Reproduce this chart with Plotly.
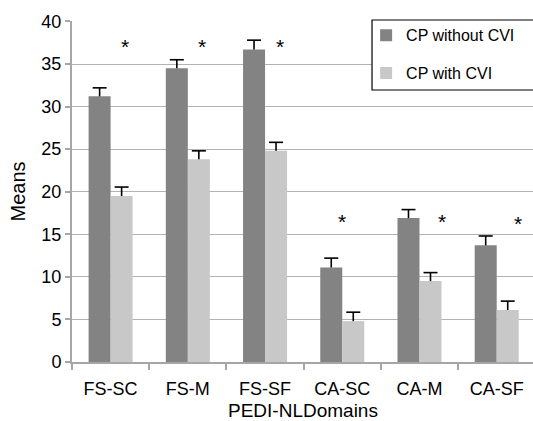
import plotly.graph_objects as go

categories = ["FS-SC", "FS-M", "FS-SF", "CA-SC", "CA-M", "CA-SF"]
without_cvi = [31.2, 34.5, 36.7, 11.1, 16.9, 13.7]
without_err = [1.0, 1.0, 1.1, 1.1, 1.0, 1.1]
with_cvi = [19.5, 23.8, 24.8, 4.8, 9.5, 6.1]
with_err = [1.05, 1.0, 1.0, 1.05, 1.0, 1.05]
star_x = [0.19, 1.18, 2.19, 3.0, 4.29, 5.28]
star_y = [37.4, 37.4, 37.4, 16.8, 16.8, 16.6]
y_ticks = [0, 5, 10, 15, 20, 25, 30, 35, 40]

FONT = "Liberation Sans, Arial, sans-serif"
DARK = "#838383"
LIGHT = "#c8c8c8"
GRID = "#b3b3b3"
AXIS = "#a6a6a6"

without_top = [v + e for v, e in zip(without_cvi, without_err)]
with_top = [v + e for v, e in zip(with_cvi, with_err)]

fig = go.Figure()
for name, vals, errs, tops, color, grp in [
    ("CP without CVI", without_cvi, without_err, without_top, DARK, "a"),
    ("CP with CVI", with_cvi, with_err, with_top, LIGHT, "b"),
]:
    fig.add_trace(go.Bar(
        x=categories, y=vals, name=name, offsetgroup=grp, legendgroup=grp,
        marker=dict(color=color, line=dict(width=0)),
        error_y=dict(type="data", array=errs, arrayminus=[0] * len(errs), symmetric=False,
                     color="black", thickness=1.6, width=0),
    ))
    fig.add_trace(go.Scatter(
        x=categories, y=tops, mode="markers", offsetgroup=grp, showlegend=False,
        hoverinfo="skip", cliponaxis=False,
        marker=dict(symbol="line-ew", size=10, color="black",
                    line=dict(color="black", width=1.6)),
    ))

for sx, sy in zip(star_x, star_y):
    fig.add_annotation(x=sx, y=sy, text="*", showarrow=False, yshift=-3,
                       font=dict(family=FONT, size=21, color="black"))

fig.add_annotation(text="PEDI-NLDomains", xref="paper", yref="paper", x=0.5, y=-0.179,
                   xanchor="center", yanchor="bottom", showarrow=False,
                   font=dict(family=FONT, size=19, color="black"))

fig.add_shape(type="rect", xref="paper", yref="paper",
              x0=0.6508, x1=1.2, y0=0.7977, y1=1.0029,
              line=dict(color="black", width=1.2), fillcolor="white", layer="above")

fig.update_layout(
    width=533, height=421,
    margin=dict(l=72, r=0, t=21, b=59, autoexpand=False),
    paper_bgcolor="white", plot_bgcolor="white",
    barmode="group", bargap=0.43, bargroupgap=0,
    scattermode="group", scattergap=0.43,
    font=dict(family=FONT, size=18, color="black"),
    showlegend=True,
    legend=dict(x=0.638, y=1.008, xanchor="left", yanchor="top",
                bgcolor="rgba(0,0,0,0)", borderwidth=0,
                font=dict(family=FONT, size=16, color="black"),
                traceorder="grouped", tracegroupgap=14),
    xaxis=dict(
        range=[-0.5, 5.47], showgrid=False, showline=True, linecolor=AXIS, linewidth=2,
        ticks="outside", tickson="boundaries", ticklen=6, tickcolor=AXIS, tickwidth=1.5,
        tickfont=dict(family=FONT, size=18), ticklabelstandoff=9, automargin=False,
    ),
    yaxis=dict(
        range=[0, 40.05], tickvals=y_ticks, showgrid=True, gridcolor=GRID, gridwidth=1.3,
        showline=True, linecolor=AXIS, linewidth=2, zeroline=False, automargin=False,
        ticks="outside", ticklen=5, tickcolor=AXIS, tickwidth=1.5,
        tickfont=dict(family=FONT, size=18),
        title=dict(text="Means", font=dict(family=FONT, size=20), standoff=10),
    ),
)

fig.write_html("out.html", config={"displayModeBar": False},
               post_script="document.body.style.margin='0';document.body.style.padding='0';")
